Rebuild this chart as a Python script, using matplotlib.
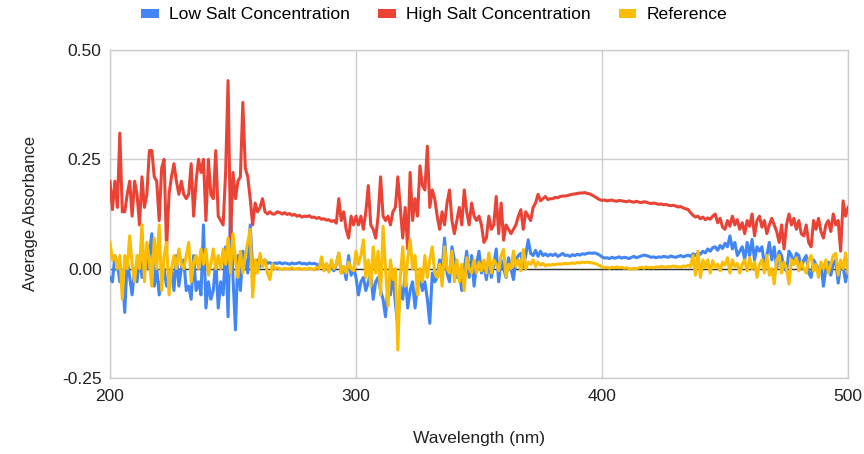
"""Average absorbance spectra: low salt vs high salt vs reference."""

import matplotlib

matplotlib.use("Agg")
import matplotlib.pyplot as plt
import numpy as np
from matplotlib.patches import Patch

plt.rcParams["font.family"] = ["Liberation Sans", "DejaVu Sans"]

wavelength = np.arange(200, 501)  # nm, 1 nm steps

# High Salt Concentration, rows of 10 starting at 200, 210, ...
high_salt = [
    0.20, 0.135, 0.20, 0.14, 0.31, 0.13, 0.13, 0.17, 0.20, 0.12,
    0.20, 0.17, 0.10, 0.21, 0.14, 0.17, 0.27, 0.27, 0.21, 0.20,
    0.11, 0.23, 0.25, 0.045, 0.17, 0.21, 0.24, 0.20, 0.17, 0.20,
    0.17, 0.16, 0.17, 0.24, 0.12, 0.20, 0.25, 0.22, 0.25, 0.11,
    0.25, 0.17, 0.16, 0.27, 0.12, 0.11, 0.10, 0.22, 0.43, 0.07,
    0.22, 0.16, 0.20, 0.21, 0.38, 0.23, 0.21, 0.16, 0.10, 0.15,
    0.13, 0.14, 0.16, 0.13, 0.125, 0.13, 0.125, 0.125, 0.13, 0.128,
    0.125, 0.128, 0.124, 0.126, 0.122, 0.124, 0.12, 0.122, 0.118, 0.12,
    0.119, 0.121, 0.117, 0.118, 0.115, 0.117, 0.113, 0.114, 0.111, 0.112,
    0.108, 0.110, 0.104, 0.16, 0.11, 0.13, 0.09, 0.07, 0.12, 0.10,
    0.12, 0.10, 0.12, 0.09, 0.13, 0.19, 0.10, 0.09, 0.07, 0.12,
    0.21, 0.12, 0.11, 0.12, 0.10, 0.13, 0.14, 0.21, 0.14, 0.07,
    0.14, 0.045, 0.22, 0.11, 0.16, 0.12, 0.235, 0.19, 0.18, 0.28,
    0.14, 0.18, 0.16, 0.12, 0.09, 0.13, 0.10, 0.15, 0.18, 0.11,
    0.08, 0.11, 0.14, 0.10, 0.18, 0.13, 0.10, 0.15, 0.12, 0.11,
    0.12, 0.10, 0.06, 0.07, 0.12, 0.09, 0.10, 0.165, 0.08, 0.15,
    0.065, 0.10, 0.09, 0.08, 0.09, 0.10, 0.12, 0.135, 0.09, 0.13,
    0.12, 0.11, 0.14, 0.15, 0.17, 0.155, 0.16, 0.165, 0.158, 0.16,
    0.16, 0.163, 0.162, 0.165, 0.166, 0.166, 0.167, 0.169, 0.17, 0.171,
    0.172, 0.173, 0.173, 0.174, 0.172, 0.171, 0.168, 0.165, 0.161, 0.158,
    0.156, 0.157, 0.155, 0.156, 0.157, 0.155, 0.154, 0.156, 0.155, 0.154,
    0.153, 0.155, 0.153, 0.152, 0.154, 0.152, 0.151, 0.153, 0.152, 0.150,
    0.149, 0.150, 0.149, 0.147, 0.148, 0.146, 0.147, 0.145, 0.144, 0.145,
    0.143, 0.141, 0.142, 0.139, 0.137, 0.135, 0.128, 0.122, 0.118, 0.12,
    0.114, 0.118, 0.112, 0.116, 0.113, 0.12, 0.125, 0.105, 0.115, 0.095,
    0.09, 0.11, 0.097, 0.12, 0.10, 0.112, 0.09, 0.105, 0.08, 0.11,
    0.097, 0.125, 0.075, 0.11, 0.12, 0.095, 0.11, 0.08, 0.10, 0.115,
    0.10, 0.085, 0.06, 0.10, 0.045, 0.10, 0.125, 0.10, 0.115, 0.09,
    0.11, 0.08, 0.075, 0.10, 0.06, 0.05, 0.11, 0.09, 0.115, 0.085,
    0.07, 0.10, 0.11, 0.085, 0.125, 0.10, 0.11, 0.04, 0.155, 0.12,
    0.14,
]

low_salt = [
    -0.02, -0.03, 0.03, 0.01, -0.03, -0.01, -0.10, 0.02, -0.02, -0.06,
    0.00, -0.03, 0.03, -0.02, 0.02, 0.00, 0.03, 0.08, -0.04, 0.00,
    -0.06, -0.02, 0.00, -0.04, -0.02, 0.00, -0.05, 0.03, -0.04, 0.00,
    0.02, -0.05, -0.04, -0.07, 0.03, -0.05, -0.03, -0.06, 0.10, -0.09,
    -0.03, -0.07, -0.05, 0.02, -0.09, -0.03, -0.06, 0.05, -0.11, 0.14,
    -0.02, -0.14, 0.03, -0.05, 0.04, 0.02, -0.01, 0.10, 0.00, -0.01,
    0.02, 0.005, 0.015, 0.02, 0.012, 0.014, 0.01, 0.013, 0.012, 0.014,
    0.011, 0.013, 0.012, 0.01, 0.013, 0.011, 0.012, 0.014, 0.011, 0.012,
    0.01, 0.013, 0.011, 0.012, 0.01, 0.008, 0.011, 0.006, 0.01, 0.002,
    0.005, -0.005, 0.01, 0.035, -0.01, 0.005, -0.025, 0.03, -0.015, 0.0,
    -0.02, -0.06, -0.03, -0.02, -0.05, -0.03, -0.01, -0.07, -0.03, -0.02,
    -0.05, -0.07, -0.11, -0.04, -0.06, -0.01, -0.08, -0.13, -0.04, -0.07,
    -0.01, -0.09, -0.05, -0.03, -0.09, -0.04, -0.02, -0.05, -0.03, -0.07,
    -0.125, -0.01, -0.03, -0.02, 0.02, 0.0, 0.07, -0.01, -0.03, 0.05,
    0.02, -0.02, -0.01, -0.05, 0.0, 0.04, -0.02, 0.03, -0.04, 0.01,
    0.04, -0.01, 0.01, -0.025, 0.02, -0.02, 0.01, 0.045, -0.03, 0.02,
    0.0, -0.02, 0.025, 0.0, -0.025, 0.02, 0.03, 0.035, 0.005, 0.03,
    0.066, 0.035, 0.03, 0.042, 0.028, 0.04, 0.03, 0.034, 0.029, 0.033,
    0.03, 0.034, 0.028, 0.031, 0.035, 0.03, 0.031, 0.028, 0.032, 0.03,
    0.033, 0.031, 0.034, 0.033, 0.035, 0.036, 0.035, 0.036, 0.034, 0.031,
    0.027, 0.024, 0.025, 0.023, 0.026, 0.024, 0.025, 0.027, 0.024, 0.026,
    0.025, 0.023, 0.026, 0.028, 0.025, 0.027, 0.029, 0.031, 0.03, 0.028,
    0.026, 0.027, 0.025, 0.027, 0.026, 0.028, 0.027, 0.026, 0.029, 0.027,
    0.026, 0.028, 0.03, 0.027, 0.029, 0.031, 0.028, 0.034, 0.03, 0.037,
    0.033, 0.04, 0.036, 0.045, 0.04, 0.048, 0.05, 0.042, 0.053, 0.046,
    0.058, 0.05, 0.075, 0.045, 0.06, 0.03, 0.04, 0.05, 0.02, 0.06,
    0.03, 0.067, 0.02, 0.05, 0.04, 0.05, 0.01, 0.03, 0.06, 0.02,
    0.05, 0.0, 0.04, 0.03, 0.0, -0.005, 0.04, 0.03, 0.01, 0.035,
    0.03, 0.0, 0.02, 0.03, -0.01, -0.02, 0.02, 0.01, -0.005, 0.01,
    -0.04, 0.0, 0.015, -0.015, 0.01, 0.02, -0.033, 0.01, 0.005, -0.03,
    0.0,
]

reference = [
    0.06, 0.02, 0.03, 0.00, 0.03, -0.07, 0.03, 0.00, 0.075, 0.01,
    -0.03, 0.03, 0.00, 0.10, -0.03, 0.06, 0.02, -0.04, 0.07, 0.00,
    0.10, -0.05, 0.03, 0.06, -0.06, 0.00, 0.03, 0.00, 0.045, 0.01,
    0.00, 0.03, 0.06, -0.03, 0.015, 0.03, 0.00, 0.045, 0.01, 0.045,
    -0.015, 0.01, 0.045, 0.00, 0.03, 0.00, 0.045, 0.01, 0.07, -0.01,
    0.08, 0.02, -0.02, 0.04, -0.01, 0.03, 0.06, 0.09, -0.065, 0.02,
    -0.01, 0.035, 0.005, 0.02, -0.01, -0.025, 0.01, 0.0, 0.002, 0.0,
    -0.002, 0.001, -0.001, 0.0, 0.002, -0.001, 0.0, 0.001, -0.002, 0.0,
    -0.001, 0.001, 0.0, -0.003, 0.003, 0.0, 0.027, -0.005, 0.012, -0.008,
    0.02, 0.0, 0.01, 0.036, -0.01, 0.005, -0.01, 0.015, 0.0, -0.005,
    0.04, 0.01, 0.03, 0.066, -0.02, 0.02, -0.04, 0.05, -0.01, 0.04,
    -0.06, 0.097, 0.0, -0.086, 0.02, -0.025, 0.0, -0.186, -0.02, 0.05,
    -0.04, 0.02, 0.066, 0.0, 0.03, -0.06, 0.0, -0.03, 0.03, -0.02,
    0.02, 0.05, -0.01, -0.02, 0.01, -0.04, 0.05, 0.0, -0.01, 0.04,
    -0.03, 0.02, -0.03, 0.01, -0.05, 0.025, 0.0, -0.01, 0.02, -0.01,
    0.015, -0.005, 0.02, -0.01, 0.036, -0.01, 0.02, 0.01, -0.005, 0.03,
    0.044, -0.018, 0.01, 0.0, 0.04, 0.005, 0.02, -0.005, 0.044, 0.0,
    0.015, 0.01, 0.02, 0.005, 0.015, 0.008, 0.012, 0.006, 0.009, 0.008,
    0.01, 0.009, 0.011, 0.01, 0.011, 0.012, 0.011, 0.012, 0.013, 0.012,
    0.014, 0.013, 0.015, 0.014, 0.015, 0.014, 0.013, 0.012, 0.01, 0.007,
    0.004, 0.002, 0.003, 0.001, 0.003, 0.002, 0.004, 0.002, 0.003, 0.001,
    0.002, 0.0, -0.001, 0.001, 0.0, 0.002, 0.003, 0.001, 0.004, 0.002,
    0.003, 0.002, 0.004, 0.003, 0.005, 0.004, 0.003, 0.005, 0.004, 0.006,
    0.005, 0.004, 0.003, 0.006, 0.005, 0.008, 0.004, 0.03, -0.015, 0.04,
    -0.02, 0.02, 0.003, 0.02, -0.01, 0.018, 0.004, 0.01, -0.005, 0.015,
    0.008, 0.025, -0.01, 0.02, 0.005, 0.012, -0.01, 0.01, 0.02, -0.005,
    0.025, 0.0, 0.015, -0.02, 0.01, 0.02, -0.01, 0.03, -0.015, 0.0,
    -0.035, 0.02, 0.03, -0.01, 0.015, 0.0, -0.035, 0.02, 0.01, 0.025,
    -0.005, 0.015, 0.0, -0.01, 0.02, 0.03, -0.005, 0.01, -0.02, 0.015,
    0.0, 0.02, -0.01, 0.01, 0.03, 0.035, -0.015, 0.02, 0.0, 0.036,
    -0.01,
]

series_names = ["Low Salt Concentration", "High Salt Concentration", "Reference"]
series_colors = ["#4285F4", "#EA4335", "#FBBC04"]
x_ticks = [200, 300, 400, 500]
y_ticks = [-0.25, 0.0, 0.25, 0.50]
y_tick_labels = ["-0.25", "0.00", "0.25", "0.50"]

for s in (high_salt, low_salt, reference):
    assert len(s) == len(wavelength)

fig = plt.figure(figsize=(8.64, 4.54), dpi=100)
ax = fig.add_axes([0.1273, 0.1674, 0.8542, 0.7225])

for vals, name, color in zip((low_salt, high_salt, reference), series_names, series_colors):
    ax.plot(wavelength, vals, color=color, linewidth=2.2, solid_joinstyle="round", label=name, zorder=3)

ax.axhline(0, color="#333333", linewidth=1.0, zorder=2)

ax.set_xlim(200, 500)
ax.set_ylim(-0.25, 0.50)
ax.set_xticks(x_ticks)
ax.set_yticks(y_ticks)
ax.set_yticklabels(y_tick_labels)
ax.grid(True, color="#cccccc", linewidth=1.0, zorder=0)
ax.tick_params(length=0, labelsize=12.5, colors="#222222", pad=6)
ax.tick_params(axis="x", pad=8)
for side in ("top", "right", "left", "bottom"):
    ax.spines[side].set_color("#cccccc")
    ax.spines[side].set_linewidth(1.0)

ax.set_xlabel("Wavelength (nm)", fontsize=12.5, color="#222222", labelpad=19)
ax.set_ylabel("Average Absorbance", fontsize=12, color="#222222", labelpad=17)

handles = [Patch(facecolor=c, edgecolor="none") for c in series_colors]
fig.legend(
    handles,
    series_names,
    loc="center",
    bbox_to_anchor=(0.503, 0.967),
    ncol=3,
    frameon=False,
    fontsize=12.6,
    handlelength=1.0,
    handleheight=0.45,
    handletextpad=0.6,
    columnspacing=1.6,
)

fig.savefig("out.png", dpi=100)
